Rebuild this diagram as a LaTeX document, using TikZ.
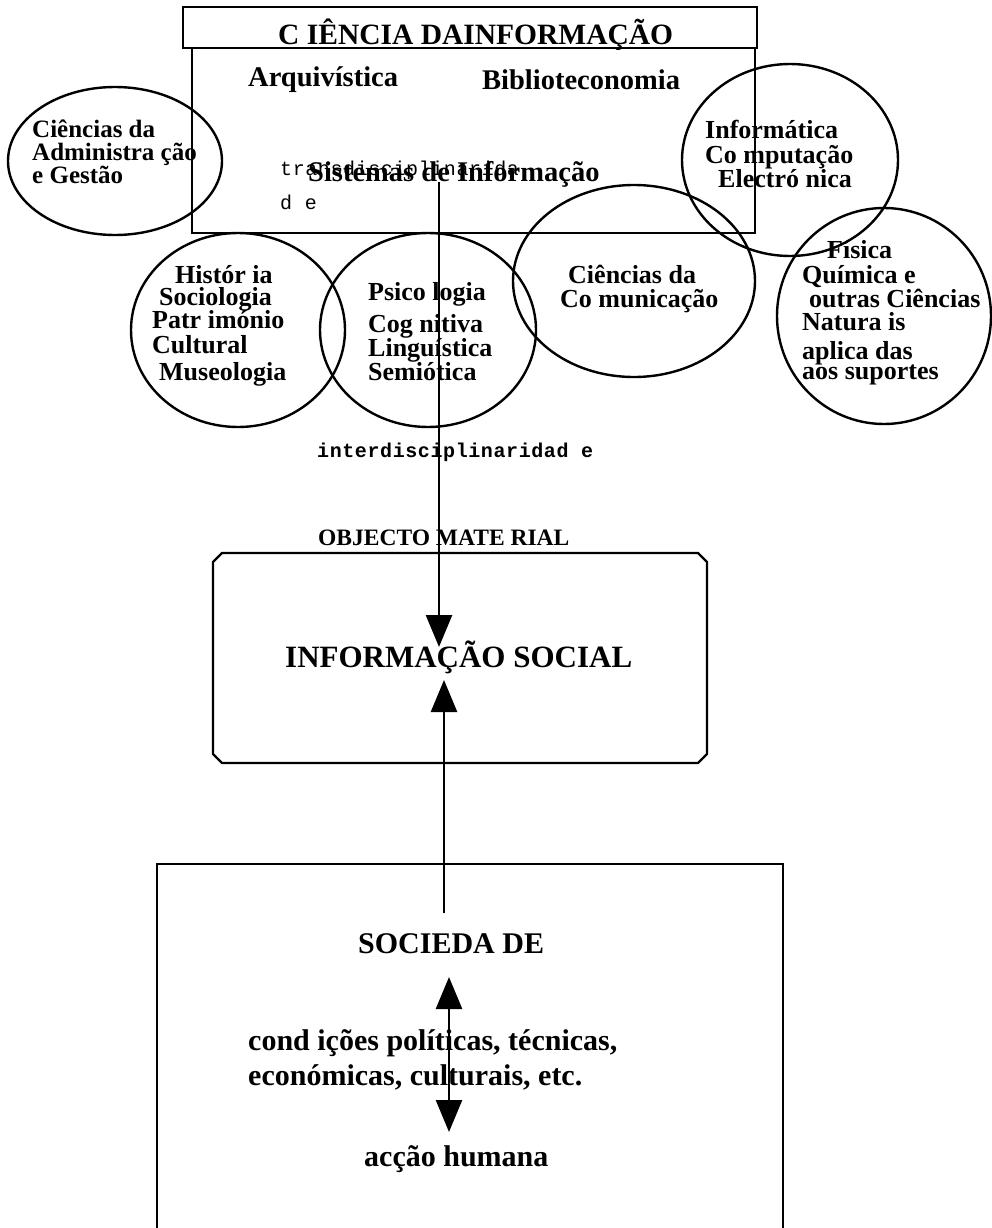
\documentclass[tikz,border=0pt]{standalone}
\usepackage{fontspec}
\setmainfont{Liberation Serif}
\newfontfamily\monoA[LetterSpace=3]{Liberation Mono}
\usetikzlibrary{arrows.meta,shapes.geometric}
\tikzset{
  lbl/.style={anchor=base west, inner sep=0pt, font=\bfseries\fontsize{26}{26}\selectfont},
  big/.style={anchor=base west, inner sep=0pt, font=\bfseries\fontsize{28.5}{28.5}\selectfont},
  huge/.style={anchor=base west, inner sep=0pt, font=\bfseries\fontsize{30}{30}\selectfont},
  mono/.style={anchor=base west, inner sep=0pt, font=\monoA\fontsize{20}{20}\selectfont},
  monob/.style={anchor=base west, inner sep=0pt, font=\monoA\bfseries\fontsize{20}{20}\selectfont},
  ell/.style={draw, ellipse, inner sep=0pt, line width=2.4pt},
  box/.style={draw, rectangle, inner sep=0pt, line width=2.4pt},
  tip/.style={line width=2.6pt, -{Triangle[width=26pt,length=32pt]}},
  dtip/.style={line width=2.6pt, {Triangle[width=26pt,length=32pt]}-{Triangle[width=26pt,length=32pt]}}
}
\begin{document}
\begin{tikzpicture}[x=1pt,y=-1pt]
\path[use as bounding box, clip] (0,0) rectangle (992,1228);
% boxes
\node[box, minimum width=574pt, minimum height=41pt] (titlebox) at (470,27.5) {};
\node[box, minimum width=563pt, minimum height=185pt] (cibox) at (473.5,140.5) {};
% ellipses
\node[ell, minimum width=214pt, minimum height=148pt] (eadm) at (115,161) {};
\node[ell, minimum width=216pt, minimum height=192pt] (einf) at (790,160) {};
\node[ell, minimum width=242pt, minimum height=192pt] (ecom) at (634,281) {};
\node[ell, minimum width=214pt, minimum height=216pt] (efis) at (884,316) {};
\node[ell, minimum width=214pt, minimum height=194pt] (ehis) at (238,330) {};
\node[ell, minimum width=216pt, minimum height=194pt] (epsi) at (428,330) {};
% texts top
\node[anchor=base west, inner sep=0pt, font=\bfseries\fontsize{29.5}{29.5}\selectfont] (title) at (278,45) {C IÊNCIA DAINFORMAÇÃO};
\node[big] (arq) at (248,87) {Arquivística};
\node[big] (bib) at (482,90) {Biblioteconomia};
\node[big] (sist) at (308,181) {Sistemas de Informação};
\node[mono] (trans1) at (280,175) {transdisciplinarida};
\node[mono] (trans2) at (280,209) {d e};
% admin
\node[lbl, font=\bfseries\fontsize{25}{25}\selectfont] (adm1) at (32,137) {Ciências da};
\node[lbl, font=\bfseries\fontsize{25}{25}\selectfont] (adm2) at (32,160) {Administra ção};
\node[lbl, font=\bfseries\fontsize{25}{25}\selectfont] (adm3) at (32,183) {e Gestão};
% informatica
\node[lbl] (inf1) at (705,139) {Informática};
\node[lbl] (inf2) at (705,163) {Co mputação};
\node[lbl] (inf3) at (718,187) {Electró nica};
% comunicacao
\node[lbl] (com1) at (568,283) {Ciências da};
\node[lbl] (com2) at (560,307) {Co municação};
% fisica
\node[lbl] (fis1) at (827,258) {Física};
\node[lbl] (fis2) at (802,283) {Química e};
\node[lbl] (fis3) at (809,307) {outras Ciências};
\node[lbl] (fis4) at (802,330) {Natura is};
\node[lbl] (fis5) at (802,359) {aplica das};
\node[lbl] (fis6) at (802,379) {aos suportes};
% historia
\node[lbl] (his1) at (175,283) {Histór ia};
\node[lbl] (his2) at (159,305) {Sociologia};
\node[lbl] (his3) at (152,328) {Patr imónio};
\node[lbl] (his4) at (152,353) {Cultural};
\node[lbl] (his5) at (159,380) {Museologia};
% psicologia
\node[lbl] (psi1) at (368,300) {Psico logia};
\node[lbl] (psi2) at (368,332) {Cog nitiva};
\node[lbl] (psi3) at (368,356) {Linguística};
\node[lbl] (psi4) at (368,380) {Semiótica};
% interdisciplinaridade
\node[monob] (inter) at (317,457) {interdisciplinaridad e};
% objecto material
\node[anchor=base west, inner sep=0pt, font=\bfseries\fontsize{23.5}{23.5}\selectfont] (obj) at (318,545) {OBJECTO MATE RIAL};
% info social box (chamfered corners)
\node[inner sep=0pt, minimum width=494pt, minimum height=210pt] (infobox) at (460,658) {};
\draw[line width=2.4pt] (222,553) -- (698,553) -- (707,562) -- (707,754) -- (698,763)
  -- (222,763) -- (213,754) -- (213,562) -- cycle;
\node[anchor=base west, inner sep=0pt, font=\bfseries\fontsize{31}{31}\selectfont] (infotext) at (285,667) {INFORMAÇÃO SOCIAL};
% sociedade box (open at the page bottom)
\node[box, minimum width=626pt, minimum height=400pt] (socbox) at (470,1064) {};
\node[huge] (soc) at (358,953) {SOCIEDA DE};
\node[huge] (cond1) at (248,1050) {cond ições políticas, técnicas,};
\node[huge] (cond2) at (248,1085) {económicas, culturais, etc.};
\node[huge] (acc) at (364,1166) {acção humana};
% connectors
\coordinate (d0) at (439,182);
\coordinate (d1) at (439,647);
\draw[tip] (d0) -- (d1);
\coordinate (u0) at (444,913);
\coordinate (u1) at (444,680);
\draw[tip] (u0) -- (u1);
\coordinate (s0) at (449,977);
\coordinate (s1) at (449,1132);
\draw[dtip] (s0) -- (s1);
\end{tikzpicture}
\end{document}
